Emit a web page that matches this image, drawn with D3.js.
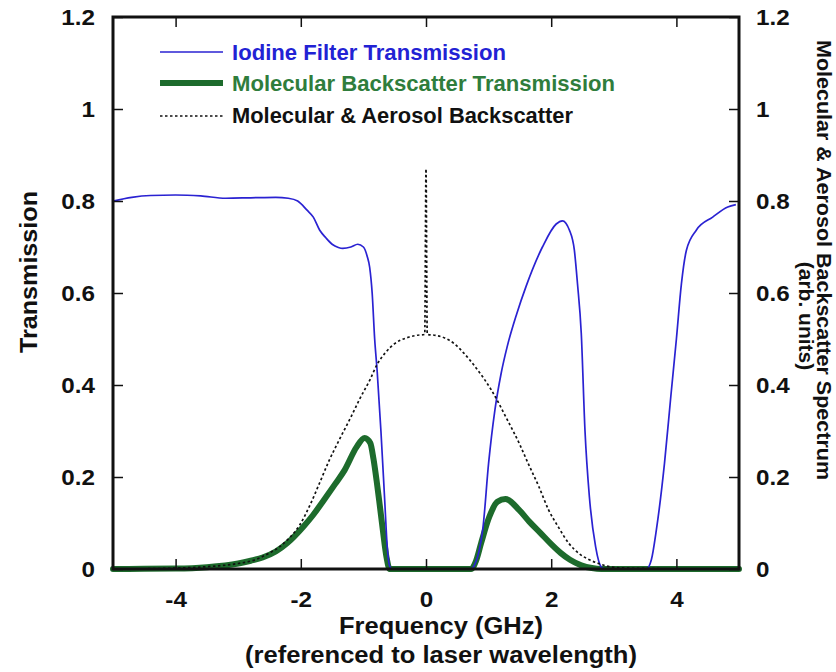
<!DOCTYPE html>
<html><head><meta charset="utf-8">
<script src="https://cdn.jsdelivr.net/npm/d3@7"></script>
<style>
html,body{margin:0;padding:0;background:#fff;}
text{font-family:"Liberation Sans",Arial,sans-serif;font-weight:bold;}
</style></head>
<body>
<svg id="chart" width="836" height="672"></svg>
<script>
// ---- data ----
const xTicks = [-4, -2, 0, 2, 4];
const yTicks = [0, 0.2, 0.4, 0.6, 0.8, 1, 1.2];
const yTickLabels = ["0", "0.2", "0.4", "0.6", "0.8", "1", "1.2"];
const xTickLabels = ["-4", "-2", "0", "2", "4"];

const iodineFreq = [-5, -4.7, -4.4, -4.0, -3.6, -3.2, -2.8, -2.4, -2.2, -2.05, -1.9, -1.8, -1.7, -1.6, -1.5, -1.4, -1.33, -1.2, -1.09, -1.0, -0.94, -0.9, -0.86, -0.82, -0.78, -0.72, -0.66, -0.62, -0.58, -0.54, 0, 0.72, 0.78, 0.85, 0.91, 1.0, 1.1, 1.2, 1.3, 1.45, 1.6, 1.86, 2.08, 2.18, 2.29, 2.37, 2.42, 2.48, 2.54, 2.61, 2.71, 2.8, 2.86, 3.2, 3.52, 3.6, 3.68, 3.81, 3.91, 4.0, 4.08, 4.16, 4.32, 4.58, 4.82, 4.95];
const iodineT    = [0.80, 0.808, 0.812, 0.813, 0.811, 0.806, 0.807, 0.808, 0.806, 0.80, 0.78, 0.765, 0.737, 0.72, 0.706, 0.699, 0.697, 0.70, 0.706, 0.70, 0.68, 0.656, 0.60, 0.50, 0.43, 0.30, 0.15, 0.05, 0.006, 0, 0, 0, 0.01, 0.04, 0.09, 0.23, 0.345, 0.425, 0.485, 0.555, 0.615, 0.70, 0.75, 0.757, 0.737, 0.693, 0.62, 0.513, 0.30, 0.157, 0.048, 0.004, 0, 0, 0, 0.02, 0.085, 0.23, 0.374, 0.50, 0.62, 0.693, 0.737, 0.765, 0.787, 0.792];

const molFreq = [-5, -4.5, -4.0, -3.5, -3.0, -2.8, -2.61, -2.4, -2.22, -1.96, -1.8, -1.63, -1.45, -1.3, -1.11, -0.98, -0.89, -0.84, -0.79, -0.74, -0.69, -0.63, -0.58, 0, 0.72, 0.8, 0.88, 1.01, 1.14, 1.27, 1.49, 1.65, 1.83, 2.0, 2.15, 2.3, 2.48, 2.65, 2.8, 3.0, 5];
const molT    = [0, 0.0005, 0.001, 0.004, 0.012, 0.018, 0.025, 0.038, 0.056, 0.092, 0.118, 0.15, 0.185, 0.215, 0.265, 0.285, 0.274, 0.24, 0.193, 0.14, 0.085, 0.025, 0, 0, 0, 0.018, 0.056, 0.113, 0.146, 0.152, 0.128, 0.103, 0.078, 0.054, 0.035, 0.02, 0.008, 0.002, 0, 0, 0];

const aerFreq = [-5, -4.5, -4.0, -3.5, -3.0, -2.73, -2.5, -2.34, -2.2, -2.02, -1.85, -1.7, -1.55, -1.37, -1.2, -1.05, -0.9, -0.78, -0.65, -0.5, -0.3, -0.15, -0.02, 0, 0.02, 0.15, 0.3, 0.45, 0.6, 0.8, 1.04, 1.3, 1.5, 1.63, 1.8, 1.96, 2.12, 2.28, 2.45, 2.61, 2.8, 2.93, 3.2, 3.6, 4.0, 5];
const aerT    = [0, 0.0005, 0.002, 0.005, 0.012, 0.02, 0.035, 0.048, 0.065, 0.095, 0.14, 0.187, 0.235, 0.285, 0.33, 0.372, 0.41, 0.445, 0.47, 0.49, 0.503, 0.508, 0.51, 0.87, 0.51, 0.508, 0.502, 0.49, 0.47, 0.437, 0.39, 0.324, 0.27, 0.23, 0.18, 0.128, 0.09, 0.056, 0.033, 0.02, 0.01, 0.005, 0.002, 0.001, 0, 0];

const legendLabels = ["Iodine Filter Transmission", "Molecular Backscatter Transmission", "Molecular & Aerosol Backscatter"];

// ---- layout ----
const svg = d3.select("#chart");
const L = 113, R = 739, T = 17, B = 569;
const x = d3.scaleLinear().domain([-5, 5]).range([L, R]);
const y = d3.scaleLinear().domain([0, 1.2]).range([B, T]);
const blue = "#2a22d2", green = "#1d6b2c", greenText = "#2f7d3c", blueText = "#2222d4";
const FONT = '"Liberation Sans",Arial,sans-serif';

// widen a text horizontally (the reference glyphs are slightly stretched)
function stretch(sel, f) {
  sel.each(function() {
    const n = this.getComputedTextLength();
    d3.select(this).attr("textLength", n * f).attr("lengthAdjust", "spacingAndGlyphs");
  });
}

svg.append("rect").attr("width", 836).attr("height", 672).attr("fill", "#fff");

// curves
const line = (xs, ys) => d3.line().x((d, i) => x(xs[i])).y((d, i) => y(ys[i])).curve(d3.curveMonotoneX)(xs);
const g = svg.append("g");
g.append("path").attr("d", line(molFreq, molT)).attr("fill", "none").attr("stroke", green).attr("stroke-width", 6).attr("stroke-linejoin", "round").attr("stroke-linecap", "round");
g.append("path").attr("d", line(iodineFreq, iodineT)).attr("fill", "none").attr("stroke", blue).attr("stroke-width", 1.7);
g.append("path").attr("d", line(aerFreq, aerT)).attr("fill", "none").attr("stroke", "#111").attr("stroke-width", 1.7).attr("stroke-dasharray", "2.5,2.5");

// axes (inward ticks)
const fmtY = d => yTickLabels[yTicks.indexOf(d)];
const fmtX = d => xTickLabels[xTicks.indexOf(d)];
const axB = svg.append("g").attr("transform", `translate(0,${B})`)
  .call(d3.axisBottom(x).tickValues(xTicks).tickSize(-10).tickPadding(22).tickFormat(fmtX));
const axT = svg.append("g").attr("transform", `translate(0,${T})`)
  .call(d3.axisTop(x).tickValues(xTicks).tickSize(-10).tickFormat(""));
const axL = svg.append("g").attr("transform", `translate(${L},0)`)
  .call(d3.axisLeft(y).tickValues(yTicks).tickSize(-10).tickPadding(18).tickFormat(fmtY));
const axR = svg.append("g").attr("transform", `translate(${R},0)`)
  .call(d3.axisRight(y).tickValues(yTicks).tickSize(-10).tickPadding(17).tickFormat(fmtY));
[axB, axT, axL, axR].forEach(a => {
  a.select(".domain").remove();
  a.selectAll(".tick line").attr("stroke", "#111").attr("stroke-width", 1.5);
  const t = a.selectAll(".tick text").attr("fill", "#111").style("font-size", "22px").style("font-family", FONT).style("font-weight", "bold");
  stretch(t, 1.1);
});
svg.append("rect").attr("x", L).attr("y", T).attr("width", R - L).attr("height", B - T)
  .attr("fill", "none").attr("stroke", "#111").attr("stroke-width", 3);

// axis titles
const xc = 441;
svg.append("text").attr("x", xc).attr("y", 634).attr("text-anchor", "middle").style("font-size", "23px").attr("fill", "#111")
  .attr("textLength", 204).attr("lengthAdjust", "spacingAndGlyphs").text("Frequency (GHz)");
svg.append("text").attr("x", xc).attr("y", 663).attr("text-anchor", "middle").style("font-size", "23px").attr("fill", "#111")
  .attr("textLength", 392).attr("lengthAdjust", "spacingAndGlyphs").text("(referenced to laser wavelength)");
svg.append("text").attr("transform", "translate(37,272) rotate(-90)").attr("text-anchor", "middle").style("font-size", "23px").attr("fill", "#111")
  .attr("textLength", 162).attr("lengthAdjust", "spacingAndGlyphs").text("Transmission");
svg.append("text").attr("transform", "translate(817,260) rotate(90)").attr("text-anchor", "middle").style("font-size", "21px").attr("fill", "#111")
  .attr("textLength", 440).attr("lengthAdjust", "spacingAndGlyphs").text("Molecular & Aerosol Backscatter Spectrum");
svg.append("text").attr("transform", "translate(799,316) rotate(90)").attr("text-anchor", "middle").style("font-size", "21px").attr("fill", "#111")
  .text("(arb. units)");

// legend
const lg = svg.append("g");
const legY = [52, 83, 116], txtY = [60, 91, 123], legW = [274, 383, 341];
const styles = [
  {stroke: blue, w: 1.7, dash: null, fill: blueText},
  {stroke: green, w: 6, dash: null, fill: greenText},
  {stroke: "#111", w: 1.7, dash: "2.5,2.5", fill: "#111"}
];
legendLabels.forEach((lab, i) => {
  const s = styles[i];
  lg.append("line").attr("x1", 160).attr("x2", 223).attr("y1", legY[i]).attr("y2", legY[i])
    .attr("stroke", s.stroke).attr("stroke-width", s.w).attr("stroke-dasharray", s.dash);
  lg.append("text").attr("x", 232).attr("y", txtY[i]).style("font-size", "21.5px").attr("fill", s.fill)
    .attr("textLength", legW[i]).attr("lengthAdjust", "spacingAndGlyphs").text(lab);
});
</script>
</body></html>
